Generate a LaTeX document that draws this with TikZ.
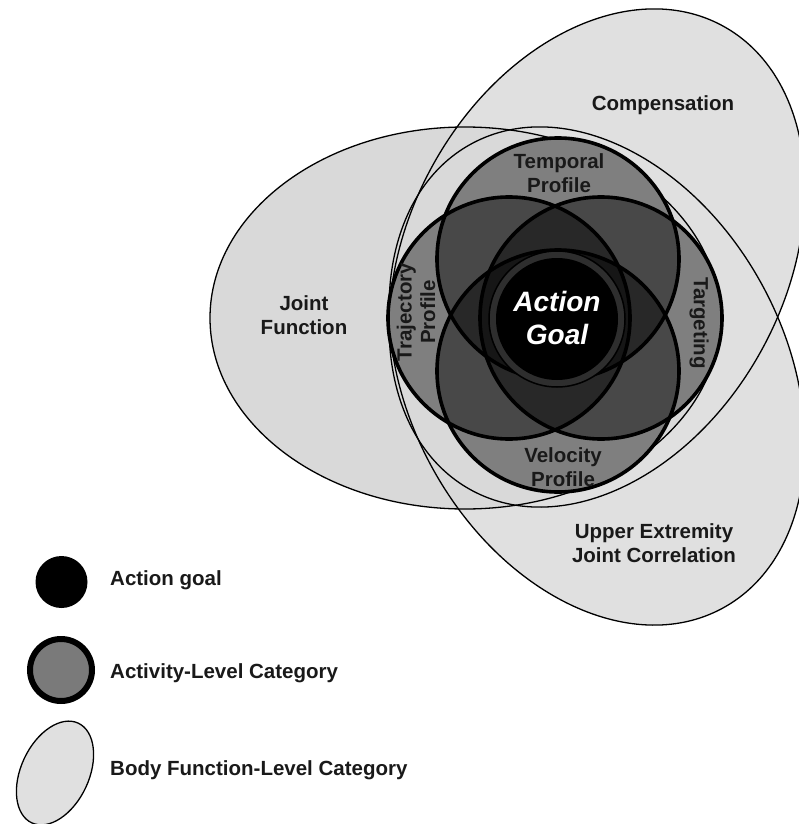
\documentclass[tikz,border=0pt]{standalone}
\usepackage{fontspec}
\setmainfont{Liberation Sans}
\begin{document}
\begin{tikzpicture}[x=1pt,y=-1pt,
  body/.style={fill=black!12},
  bodyline/.style={draw=black,line width=1.3pt},
  actbg/.style={fill=black!12},
  act/.style={fill=black,fill opacity=0.43},
  actline/.style={draw=black,line width=3.6pt},
  lab/.style={font=\fontsize{20.5}{23.5}\selectfont\bfseries,align=center,text=black!90,inner sep=0pt},
  leglab/.style={font=\fontsize{20.5}{23.5}\selectfont\bfseries,anchor=west,text=black!90,inner sep=0pt}]
\useasboundingbox (0,0) rectangle (799,824);
\fill[white] (0,0) rectangle (799,824);

% body function level ellipses (fills)
\fill[body,rotate around={61.7:(597,258)}] (597,258) ellipse [x radius=264,y radius=188.6];
\fill[body,rotate around={-61.7:(597,376)}] (597,376) ellipse [x radius=264,y radius=188.6];
\fill[fill=black!15] (465,318) ellipse [x radius=255,y radius=191];
% outlines
\draw[bodyline,rotate around={61.7:(597,258)}] (597,258) ellipse [x radius=264,y radius=188.6];
\draw[bodyline,rotate around={-61.7:(597,376)}] (597,376) ellipse [x radius=264,y radius=188.6];
\draw[bodyline] (465,318) ellipse [x radius=255,y radius=191];

% activity level circles
\foreach \p in {(558,259),(558,371),(509,318),(601,318)} \fill[actbg] \p circle [radius=121];
\foreach \p in {(558,259),(558,371),(509,318),(601,318)} \fill[act] \p circle [radius=121];
\foreach \p in {(558,259),(558,371),(509,318),(601,318)} \draw[actline] \p circle [radius=121];

% action goal
\filldraw[fill=black!82,draw=black,line width=1.5pt] (557,319) circle [radius=68];
\fill[black] (557,319) circle [radius=61];

% labels
\node[lab] (comp) at (663,105) {Compensation};
\node[lab] (joint) at (304,315) {Joint\\Function};
\node[lab] (ue) at (654,543) {Upper Extremity\\Joint Correlation};
\node[lab] (temp) at (559,173) {Temporal\\Profile};
\node[lab] (velo) at (563,467) {Velocity\\Profile};
\node[lab,rotate=90] (traj) at (416,312) {Trajectory\\Profile};
\node[lab,rotate=-90] (targ) at (699,323) {Targeting};
\node[font=\fontsize{28}{33}\selectfont\bfseries\itshape,align=center,text=white,inner sep=0pt] (goal) at (557,318) {Action\\Goal};

% legend
\fill[black] (61.5,582) circle [radius=26];
\node[leglab] (lg1) at (110,580) {Action goal};
\filldraw[fill=black!52,draw=black,line width=6pt] (61,670) circle [radius=31];
\node[leglab] (lg2) at (110,673) {Activity-Level Category};
\filldraw[fill=black!12,draw=black,line width=1.3pt,rotate around={65:(55,773)}] (55,773) ellipse [x radius=55,y radius=34];
\node[leglab] (lg3) at (110,770) {Body Function-Level Category};
\end{tikzpicture}
\end{document}
